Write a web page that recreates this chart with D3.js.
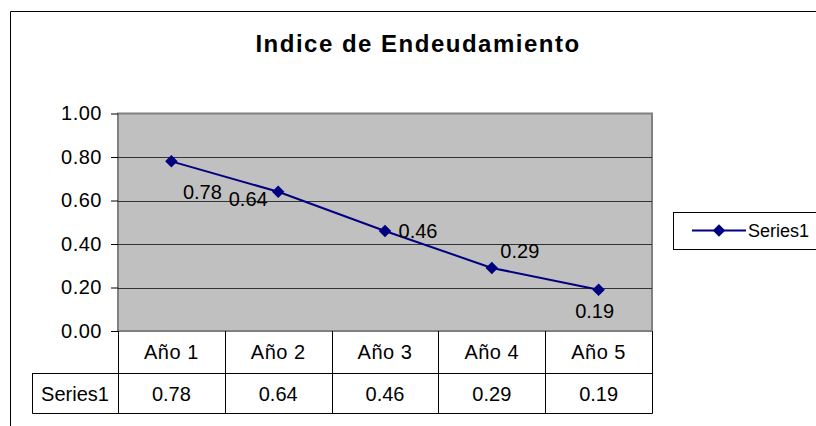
<!DOCTYPE html>
<html>
<head>
<meta charset="utf-8">
<script src="https://cdn.jsdelivr.net/npm/d3@7"></script>
<style>
  body { margin: 0; background: #fff; }
  svg { font-family: "Liberation Sans", Arial, sans-serif; }
</style>
</head>
<body>
<svg id="chart" width="816" height="426"></svg>
<script>
// data
const categories = ["Año 1", "Año 2", "Año 3", "Año 4", "Año 5"];
const series1 = [0.78, 0.64, 0.46, 0.29, 0.19];
const seriesName = "Series1";
const yTicks = [0, 0.2, 0.4, 0.6, 0.8, 1.0];
// where Excel dropped each data label, relative to its point
const labelOffsets = [[31, 38], [-30, 14], [33, 7], [28, -10], [-4, 28]];

const svg = d3.select("#chart");

// chart area border
svg.append("path")
    .attr("d", "M10.5,440 V11.5 H830")
    .attr("fill", "none")
    .attr("stroke", "#000")
    .attr("stroke-width", 1);

const plot = {left: 118, right: 652, top: 113.5, bottom: 331};

const x = d3.scaleBand()
    .domain(categories)
    .range([plot.left, plot.right]);

const y = d3.scaleLinear()
    .domain([0, 1])
    .range([plot.bottom, plot.top]);

// title
svg.append("text")
    .attr("x", 418)
    .attr("y", 52)
    .attr("text-anchor", "middle")
    .attr("font-size", "24px")
    .attr("font-weight", "bold")
    .attr("letter-spacing", "1.5px")
    .text("Indice de Endeudamiento");

// plot background
svg.append("rect")
    .attr("x", plot.left)
    .attr("y", plot.top)
    .attr("width", plot.right - plot.left)
    .attr("height", plot.bottom - plot.top)
    .attr("fill", "#c0c0c0")
    .attr("stroke", "#808080")
    .attr("stroke-width", 2);

// gridlines
svg.append("g")
    .selectAll("line")
    .data(yTicks.filter(d => d > 0 && d < 1))
    .enter()
    .append("line")
    .attr("x1", plot.left)
    .attr("x2", plot.right)
    .attr("y1", d => Math.round(y(d)) + 0.5)
    .attr("y2", d => Math.round(y(d)) + 0.5)
    .attr("stroke", "#333")
    .attr("stroke-width", 1);

// y axis
const yAxis = svg.append("g")
    .attr("transform", `translate(${plot.left},0)`)
    .call(d3.axisLeft(y).tickValues(yTicks).tickFormat(d3.format(".2f")).tickSize(7).tickPadding(9));
yAxis.select(".domain").remove();
yAxis.selectAll("line").attr("stroke", "#000");
yAxis.selectAll("text")
    .attr("font-size", "20px")
    .attr("font-family", "Liberation Sans, Arial, sans-serif")
    .attr("letter-spacing", "0.5px")
    .attr("fill", "#000");

// series line
const line = d3.line()
    .x((d, i) => x(categories[i]) + x.bandwidth() / 2)
    .y(d => y(d));

svg.append("path")
    .datum(series1)
    .attr("d", line)
    .attr("fill", "none")
    .attr("stroke", "#000080")
    .attr("stroke-width", 2);

const diamond = d3.symbol().type(d3.symbolDiamond2).size(100);

svg.append("g")
    .selectAll("path")
    .data(series1)
    .enter()
    .append("path")
    .attr("d", diamond)
    .attr("transform", (d, i) => `translate(${x(categories[i]) + x.bandwidth() / 2},${y(d)})`)
    .attr("fill", "#000080");

// data labels
svg.append("g")
    .selectAll("text")
    .data(series1)
    .enter()
    .append("text")
    .attr("x", (d, i) => x(categories[i]) + x.bandwidth() / 2 + labelOffsets[i][0])
    .attr("y", (d, i) => y(d) + labelOffsets[i][1])
    .attr("text-anchor", "middle")
    .attr("font-size", "20px")
    .text(d => d.toFixed(2));

// data table under the plot
const rowTop = plot.bottom, rowMid = 373, rowBottom = 413, headLeft = 32;
const table = svg.append("g")
    .attr("stroke", "#000")
    .attr("stroke-width", 1)
    .attr("fill", "none");

table.append("path")
    .attr("d", `M${plot.left + 0.5},${rowTop} V${rowBottom + 0.5}`
        + ` M${headLeft + 0.5},${rowMid + 0.5} H${plot.right + 0.5}`
        + ` M${headLeft + 0.5},${rowBottom + 0.5} H${plot.right + 0.5}`
        + ` M${headLeft + 0.5},${rowMid} V${rowBottom + 0.5}`);

table.selectAll("line")
    .data(categories)
    .enter()
    .append("line")
    .attr("x1", d => Math.round(x(d) + x.bandwidth()) + 0.5)
    .attr("x2", d => Math.round(x(d) + x.bandwidth()) + 0.5)
    .attr("y1", rowTop)
    .attr("y2", rowBottom + 0.5);

svg.append("g")
    .selectAll("text")
    .data(categories)
    .enter()
    .append("text")
    .attr("x", d => x(d) + x.bandwidth() / 2)
    .attr("y", 358.5)
    .attr("text-anchor", "middle")
    .attr("font-size", "20px")
    .attr("letter-spacing", "0.5px")
    .text(d => d);

svg.append("g")
    .selectAll("text")
    .data(series1)
    .enter()
    .append("text")
    .attr("x", (d, i) => x(categories[i]) + x.bandwidth() / 2)
    .attr("y", 401)
    .attr("text-anchor", "middle")
    .attr("font-size", "20px")
    .text(d => d.toFixed(2));

svg.append("text")
    .attr("x", (headLeft + plot.left) / 2)
    .attr("y", 401)
    .attr("text-anchor", "middle")
    .attr("font-size", "20px")
    .text(seriesName);

// legend
const legend = svg.append("g").attr("transform", "translate(673,212)");
legend.append("rect")
    .attr("x", 0.5)
    .attr("y", 0.5)
    .attr("width", 170)
    .attr("height", 37)
    .attr("fill", "#fff")
    .attr("stroke", "#000");
legend.append("line")
    .attr("x1", 19)
    .attr("x2", 73)
    .attr("y1", 18.5)
    .attr("y2", 18.5)
    .attr("stroke", "#000080")
    .attr("stroke-width", 2);
legend.append("path")
    .attr("d", diamond)
    .attr("transform", "translate(46,18.5)")
    .attr("fill", "#000080");
legend.append("text")
    .attr("x", 75)
    .attr("y", 25)
    .attr("font-size", "18px")
    .text(seriesName);
</script>
</body>
</html>
